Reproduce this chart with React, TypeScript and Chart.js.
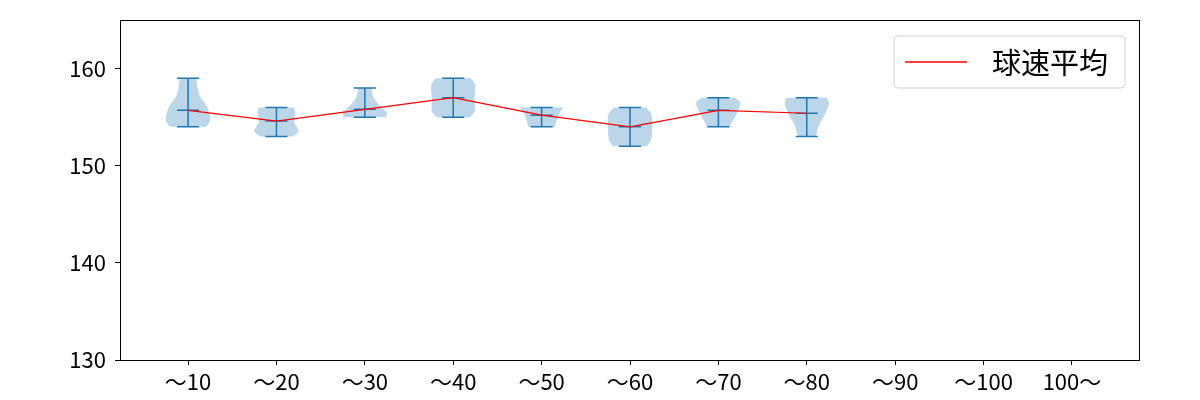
import React, { useEffect, useRef } from "react";
import { Chart, registerables } from "chart.js";

Chart.register(...registerables);

// ---- data ----
const categories = ["～10", "～20", "～30", "～40", "～50", "～60", "～70", "～80", "～90", "～100", "100～"];
const seriesLabel = "球速平均";
const speedMeans = [155.7, 154.6, 155.8, 157.0, 155.2, 154.0, 155.7, 155.4];
const speedMins = [154, 153, 155, 155, 154, 152, 154, 153];
const speedMaxs = [159, 156, 158, 159, 156, 156, 157, 157];
const yTicks = [130, 140, 150, 160];

// violin profiles: [speed, relative half-width]
const violin10 = [[159, 0.38], [158.5, 0.4], [158, 0.43], [157.5, 0.48], [157, 0.58], [156.5, 0.74], [156, 0.88], [155.5, 0.95], [155, 1.0], [154.5, 0.98], [154, 0.82]];
const violin20 = [[156, 0.8], [155.5, 0.85], [155, 0.82], [154.5, 0.8], [154, 0.92], [153.5, 1.0], [153, 0.72]];
const violin30 = [[158, 0.3], [157.5, 0.33], [157, 0.4], [156.5, 0.55], [156, 0.76], [155.5, 1.0], [155, 0.95]];
const violin40 = [[159, 0.78], [158.5, 0.96], [158, 1.0], [157, 0.97], [156, 0.98], [155.5, 0.95], [155, 0.75]];
const violin50 = [[156, 1.0], [155.5, 0.82], [155, 0.72], [154.5, 0.66], [154, 0.6]];
const violin60 = [[156, 0.72], [155.5, 0.92], [155, 1.0], [154, 1.0], [153, 0.98], [152.5, 0.92], [152, 0.76]];
const violin70 = [[157, 0.75], [156.5, 1.0], [156, 0.95], [155.5, 0.85], [155, 0.75], [154.5, 0.62], [154, 0.5]];
const violin80 = [[157, 0.9], [156.5, 1.0], [156, 0.95], [155.5, 0.86], [155, 0.76], [154.5, 0.62], [154, 0.52], [153.5, 0.46], [153, 0.4]];
const violinProfiles = [violin10, violin20, violin30, violin40, violin50, violin60, violin70, violin80];

const FONT = "'Noto Sans CJK JP', 'Noto Sans', sans-serif";
const BLUE = "#1f77b4";

type P = { px: number; py: number };

function smoothPath(ctx: CanvasRenderingContext2D, pts: P[], first: boolean) {
  if (first) ctx.moveTo(pts[0].px, pts[0].py);
  else ctx.lineTo(pts[0].px, pts[0].py);
  for (let i = 0; i < pts.length - 1; i++) {
    const p0 = pts[Math.max(0, i - 1)];
    const p1 = pts[i];
    const p2 = pts[i + 1];
    const p3 = pts[Math.min(pts.length - 1, i + 2)];
    const c1x = p1.px + (p2.px - p0.px) / 6;
    const c1y = p1.py + (p2.py - p0.py) / 6;
    const c2x = p2.px - (p3.px - p1.px) / 6;
    const c2y = p2.py - (p3.py - p1.py) / 6;
    ctx.bezierCurveTo(c1x, c1y, c2x, c2y, p2.px, p2.py);
  }
}

const violinPlugin = {
  id: "violins",
  beforeDatasetsDraw(chart: any) {
    const { ctx, scales } = chart;
    const x = scales.x;
    const y = scales.y;
    const bodyHalf = 0.25;
    const capHalf = 0.125;
    ctx.save();
    violinProfiles.forEach((prof: number[][], i: number) => {
      const cx = i + 1;
      const right = prof.map(([v, w]) => ({ px: x.getPixelForValue(cx + w * bodyHalf), py: y.getPixelForValue(v) }));
      const left = prof
        .slice()
        .reverse()
        .map(([v, w]) => ({ px: x.getPixelForValue(cx - w * bodyHalf), py: y.getPixelForValue(v) }));
      ctx.beginPath();
      smoothPath(ctx, right, true);
      smoothPath(ctx, left, false);
      ctx.closePath();
      ctx.fillStyle = "rgba(31,119,180,0.3)";
      ctx.fill();
    });
    ctx.strokeStyle = BLUE;
    ctx.lineWidth = 1.5;
    violinProfiles.forEach((_p: any, i: number) => {
      const cx = i + 1;
      const xc = x.getPixelForValue(cx);
      const xl = x.getPixelForValue(cx - capHalf);
      const xr = x.getPixelForValue(cx + capHalf);
      const yMin = y.getPixelForValue(speedMins[i]);
      const yMax = y.getPixelForValue(speedMaxs[i]);
      const yMean = y.getPixelForValue(speedMeans[i]);
      ctx.beginPath();
      ctx.moveTo(xc, yMin);
      ctx.lineTo(xc, yMax);
      [yMin, yMax, yMean].forEach((yy) => {
        ctx.moveTo(xl, yy);
        ctx.lineTo(xr, yy);
      });
      ctx.stroke();
    });
    ctx.restore();
  },
  afterDraw(chart: any) {
    const { ctx, chartArea } = chart;
    ctx.save();
    // frame
    ctx.strokeStyle = "#000";
    ctx.lineWidth = 1;
    ctx.strokeRect(
      Math.round(chartArea.left) + 0.5,
      Math.round(chartArea.top) + 0.5,
      Math.round(chartArea.right - chartArea.left) - 1,
      Math.round(chartArea.bottom - chartArea.top)
    );
    // legend
    const bw = 231;
    const bh = 52;
    const bx = chartArea.right - 15 - bw;
    const by = chartArea.top + 16;
    const r = 4;
    ctx.beginPath();
    ctx.moveTo(bx + r, by);
    ctx.lineTo(bx + bw - r, by);
    ctx.quadraticCurveTo(bx + bw, by, bx + bw, by + r);
    ctx.lineTo(bx + bw, by + bh - r);
    ctx.quadraticCurveTo(bx + bw, by + bh, bx + bw - r, by + bh);
    ctx.lineTo(bx + r, by + bh);
    ctx.quadraticCurveTo(bx, by + bh, bx, by + bh - r);
    ctx.lineTo(bx, by + r);
    ctx.quadraticCurveTo(bx, by, bx + r, by);
    ctx.closePath();
    ctx.fillStyle = "rgba(255,255,255,0.8)";
    ctx.fill();
    ctx.strokeStyle = "#d0d0d0";
    ctx.lineWidth = 1;
    ctx.stroke();
    const ly = by + bh / 2;
    ctx.beginPath();
    ctx.moveTo(bx + 11, ly);
    ctx.lineTo(bx + 73, ly);
    ctx.strokeStyle = "#ff0000";
    ctx.lineWidth = 1.5;
    ctx.stroke();
    ctx.fillStyle = "#000";
    ctx.font = `29px ${FONT}`;
    ctx.textBaseline = "middle";
    ctx.textAlign = "left";
    ctx.fillText(seriesLabel, bx + 98, ly + 1);
    ctx.restore();
  },
};

export default function App() {
  const ref = useRef<HTMLCanvasElement | null>(null);
  useEffect(() => {
    document.body.style.margin = "0";
    if (!ref.current) return;
    const chart = new Chart(ref.current, {
      type: "line",
      data: {
        datasets: [
          {
            label: seriesLabel,
            data: speedMeans.map((m, i) => ({ x: i + 1, y: m })),
            borderColor: "#ff0000",
            borderWidth: 1.2,
            pointRadius: 0,
            fill: false,
            tension: 0,
          },
        ],
      },
      options: {
        animation: false,
        responsive: false,
        layout: { padding: { top: 20, right: 60, bottom: 0, left: 0 } },
        plugins: { legend: { display: false }, tooltip: { enabled: false } },
        scales: {
          x: {
            type: "linear",
            min: 0.23,
            max: 11.77,
            afterFit: (s: any) => {
              s.height = 40;
              s.paddingLeft = 0;
              s.paddingRight = 0;
            },
            afterBuildTicks: (s: any) => {
              s.ticks = categories.map((_c, i) => ({ value: i + 1 }));
            },
            border: { display: false },
            grid: { drawOnChartArea: false, drawTicks: true, tickLength: 5, tickColor: "#000", tickWidth: 1 },
            ticks: {
              autoSkip: false,
              maxRotation: 0,
              padding: 3,
              color: "#000",
              font: { family: FONT, size: 22 },
              callback: (v: any) => categories[Math.round(Number(v)) - 1] ?? "",
            },
          },
          y: {
            min: 130,
            max: 165,
            afterFit: (s: any) => {
              s.width = 120;
              s.paddingTop = 0;
              s.paddingBottom = 0;
            },
            afterBuildTicks: (s: any) => {
              s.ticks = yTicks.map((v) => ({ value: v }));
            },
            border: { display: false },
            grid: { drawOnChartArea: false, drawTicks: true, tickLength: 5, tickColor: "#000", tickWidth: 1 },
            ticks: {
              padding: 9,
              color: "#000",
              font: { family: FONT, size: 22 },
              callback: (v: any) => String(v),
            },
          },
        },
      },
      plugins: [violinPlugin],
    });
    return () => chart.destroy();
  }, []);
  return (
    <div style={{ position: "absolute", left: 0, top: 0, width: 1200, height: 400, background: "#fff" }}>
      <canvas ref={ref} width={1200} height={400} style={{ width: 1200, height: 400 }} />
    </div>
  );
}
